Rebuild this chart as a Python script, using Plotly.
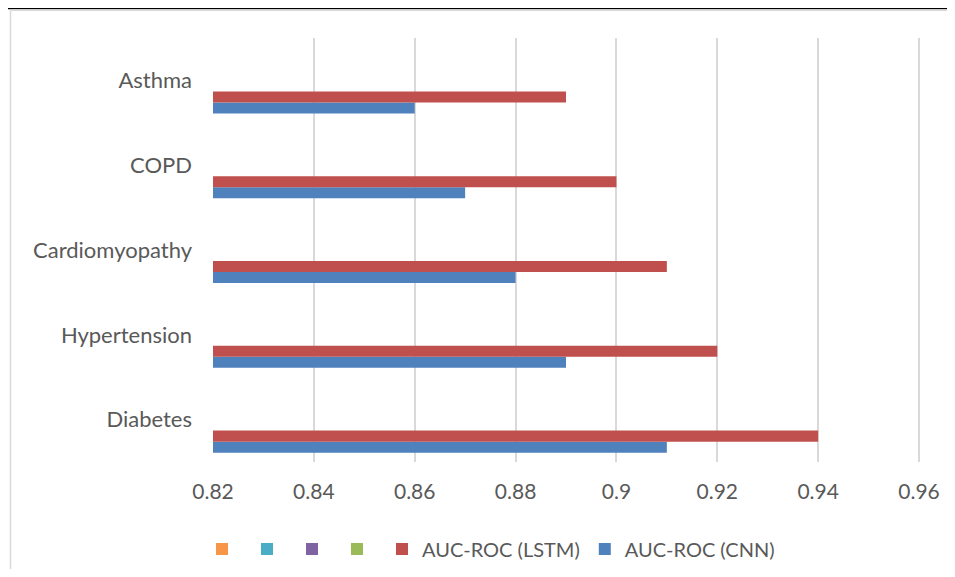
import plotly.graph_objects as go

categories = ["Diabetes", "Hypertension", "Cardiomyopathy", "COPD", "Asthma"]
cnn_values = [0.91, 0.89, 0.88, 0.87, 0.86]
lstm_values = [0.94, 0.92, 0.91, 0.90, 0.89]
empty_series_colors = ["#9BBB59", "#8064A2", "#4BACC6", "#F79646"]
x_ticks = [0.82, 0.84, 0.86, 0.88, 0.9, 0.92, 0.94, 0.96]
x_tick_labels = ["0.82", "0.84", "0.86", "0.88", "0.9", "0.92", "0.94", "0.96"]

FONT = "Lato, Open Sans, sans-serif"
TXT = "#595959"

fig = go.Figure()
fig.add_trace(go.Bar(y=categories, x=cnn_values, orientation="h",
                     name="AUC-ROC (CNN)", marker=dict(color="#4F81BD", line=dict(width=0))))
fig.add_trace(go.Bar(y=categories, x=lstm_values, orientation="h",
                     name="AUC-ROC (LSTM)", marker=dict(color="#C0504D", line=dict(width=0))))
for c in empty_series_colors:
    fig.add_trace(go.Bar(y=categories, x=[None] * len(categories), orientation="h",
                         name="", marker=dict(color=c, line=dict(width=0))))

# page has an 8px body margin: figure coordinates = page coordinates - 8
OFF = 8
W, H = 955 - 2 * OFF, 577 - 2 * OFF
L, T = 213 - OFF, 38 - OFF
R = W - (920 - OFF)
B = H - (462 - OFF)
pw, ph = W - L - R, H - T - B

def px(x):
    return (x - OFF - L) / pw

def py(y):
    return (H - B - (y - OFF)) / ph

shapes = [
    dict(type="line", xref="paper", yref="paper", x0=px(0), x1=px(960), y0=py(8.6), y1=py(8.6),
         line=dict(color="black", width=1.3)),
    dict(type="line", xref="paper", yref="paper", x0=px(10.5), x1=px(960), y0=py(10.3), y1=py(10.3),
         line=dict(color="#d9d9d9", width=1.5)),
    dict(type="line", xref="paper", yref="paper", x0=px(10.5), x1=px(10.5), y0=py(10.3), y1=py(590),
         line=dict(color="#d9d9d9", width=1.5)),
]

fig.update_layout(
    width=W, height=H,
    margin=dict(l=L, r=R, t=T, b=B, autoexpand=False),
    paper_bgcolor="white", plot_bgcolor="white",
    barmode="group", bargap=0.22, bargroupgap=0,
    font=dict(family=FONT, size=21, color=TXT),
    xaxis=dict(range=[0.82, 0.9602], tickvals=x_ticks, ticktext=x_tick_labels,
               showgrid=True, gridcolor="#d9d9d9", gridwidth=1.5, zeroline=False,
               showline=False, ticks="", ticklen=0, ticklabelstandoff=15,
               tickfont=dict(size=21, color=TXT)),
    yaxis=dict(showgrid=False, zeroline=False, showline=False, ticks="",
               ticklabelstandoff=20, tickfont=dict(size=22, color=TXT)),
    legend=dict(orientation="h", traceorder="reversed",
                xref="container", yref="container",
                x=(491 - OFF) / W, xanchor="center", y=(H - (549 - OFF)) / H, yanchor="middle",
                font=dict(size=20, color=TXT), itemclick=False, itemwidth=30),
    shapes=shapes,
    showlegend=True,
)

fig.write_html("out.html")
